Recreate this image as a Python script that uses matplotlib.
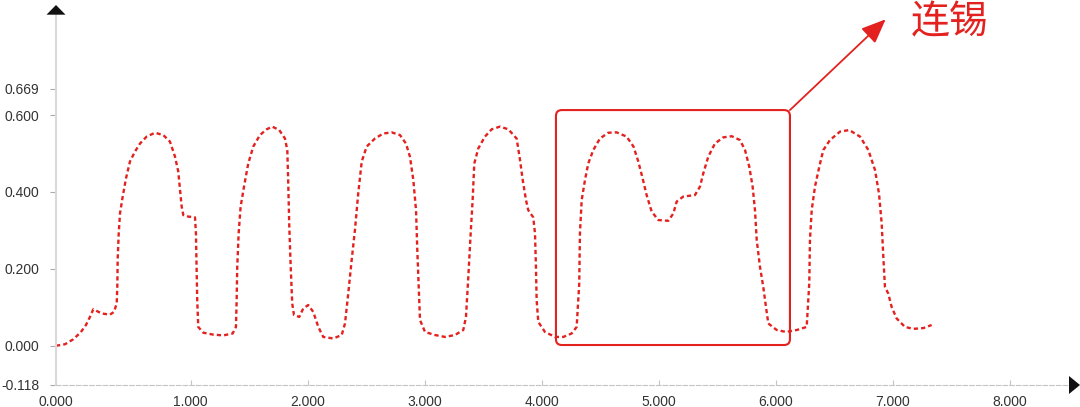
import numpy as np
import matplotlib
matplotlib.use('Agg')
import matplotlib.pyplot as plt
from matplotlib.patches import FancyBboxPatch, Polygon

# data
xVals=[-0.151,-0.074,-0.003,0.060,0.105,0.139,0.168,0.239,0.310,0.344,0.368,0.373,0.376,0.385,0.396,0.419,0.447,0.481,0.524,0.567,
       0.624,0.695,0.766,0.823,0.866,0.894,0.909,0.923,0.937,0.979,1.037,1.045,1.051,1.056,1.065,1.108,1.193,1.279,1.359,1.387,
       1.393,1.398,1.410,1.427,1.456,1.492,1.535,1.592,1.650,1.697,1.757,1.806,1.826,1.834,1.843,1.855,1.868,1.883,1.928,1.962,
       2.005,2.048,2.091,2.133,2.219,2.291,2.319,2.347,2.376,2.404,2.432,2.462,2.504,2.575,2.646,2.718,2.789,2.840,2.874,2.903,
       2.926,2.937,2.949,2.960,3.003,3.088,3.174,3.259,3.330,3.353,3.373,3.393,3.410,3.424,3.458,3.515,3.573,3.644,3.715,3.786,
       3.815,3.838,3.866,3.885,3.928,3.943,3.951,3.957,3.971,4.028,4.114,4.185,4.256,4.299,4.321,4.327,4.342,4.370,4.398,4.441,
       4.498,4.569,4.641,4.726,4.785,4.826,4.863,4.897,4.940,4.997,5.082,5.125,5.154,5.210,5.310,5.353,5.381,5.424,5.481,5.552,
       5.624,5.695,5.738,5.774,5.803,5.823,5.838,5.866,5.894,5.917,5.937,6.009,6.088,6.180,6.265,6.279,6.287,6.293,6.308,6.336,
       6.373,6.407,6.464,6.550,6.629,6.721,6.792,6.849,6.883,6.906,6.920,6.934,6.962,6.991,7.034,7.105,7.176,7.262,7.333]
yVals=[0.000,0.004,0.017,0.035,0.054,0.075,0.095,0.084,0.081,0.088,0.110,0.153,0.223,0.292,0.344,0.388,0.435,0.479,0.505,0.526,
       0.544,0.554,0.548,0.531,0.492,0.453,0.405,0.362,0.340,0.336,0.334,0.292,0.205,0.119,0.049,0.034,0.029,0.027,0.032,0.049,
       0.119,0.205,0.292,0.362,0.414,0.474,0.518,0.548,0.563,0.570,0.561,0.539,0.509,0.422,0.309,0.205,0.110,0.080,0.075,0.097,
       0.106,0.088,0.049,0.023,0.019,0.028,0.058,0.136,0.223,0.301,0.396,0.479,0.518,0.539,0.552,0.555,0.548,0.526,0.492,0.431,
       0.353,0.249,0.153,0.067,0.036,0.028,0.023,0.028,0.041,0.075,0.179,0.292,0.379,0.474,0.513,0.544,0.563,0.570,0.563,0.539,
       0.483,0.431,0.379,0.353,0.334,0.292,0.205,0.119,0.062,0.036,0.023,0.023,0.032,0.049,0.162,0.292,0.379,0.431,0.474,0.509,
       0.539,0.554,0.555,0.544,0.518,0.479,0.435,0.392,0.349,0.327,0.325,0.344,0.375,0.388,0.392,0.414,0.448,0.492,0.526,0.542,
       0.545,0.535,0.509,0.466,0.414,0.353,0.275,0.205,0.153,0.101,0.058,0.041,0.036,0.041,0.049,0.119,0.162,0.275,0.353,0.414,
       0.466,0.509,0.535,0.557,0.561,0.544,0.509,0.457,0.396,0.318,0.231,0.153,0.136,0.101,0.071,0.049,0.044,0.046,0.054]

xOrigin=-0.151
xMax=8.507
yOrigin=-0.102
yMax=0.861
xTicks=[xOrigin,1,2,3,4,5,6,7,8]
xTickLabels=['0.000','1.000','2.000','3.000','4.000','5.000','6.000','7.000','8.000']
yTicks=[yOrigin,0,0.2,0.4,0.6,0.669]
yTickLabels=['-0.118','0.000','0.200','0.400','0.600','0.669']

# highlighted region and label
boxX=[4.122,6.122]
boxY=[0.002,0.613]
arrowTip=(6.940,0.849)
labelPos=(7.155,0.840)
labelText='连锡'

red='#e3211f'
W,H=1080,407

fig=plt.figure(figsize=(W/100,H/100), dpi=100)
ax=fig.add_axes([56/W, 1-385/H, (1069-56)/W, (385-14.7)/H])
ax.set_xlim(xOrigin, xMax)
ax.set_ylim(yOrigin, yMax)

ax.plot(xVals, yVals, color=red, linewidth=1.7, linestyle=(0,(1.8,1.3)), solid_capstyle='butt')

# axes styling
for s in ['top','right']:
	ax.spines[s].set_visible(False)
ax.spines['left'].set_color('#d9d9d9')
ax.spines['left'].set_linewidth(1.5)
ax.spines['bottom'].set_color('#c4c4c4')
ax.spines['bottom'].set_linewidth(0.8)
ax.spines['bottom'].set_linestyle((0,(4,2)))

ax.set_xticks(xTicks)
ax.set_xticklabels(xTickLabels)
ax.set_yticks(yTicks)
ax.set_yticklabels(yTickLabels)
ax.tick_params(axis='x', direction='in', length=3.5, width=0.8, color='#c4c4c4', pad=7,
			   labelsize=10, labelcolor='#333333')
ax.tick_params(axis='y', direction='out', length=4, width=0.8, color='#aaaaaa', pad=8,
			   labelsize=10, labelcolor='#333333')
for lab in ax.get_xticklabels()+ax.get_yticklabels():
	lab.set_fontfamily('Liberation Sans')

# rounded box around the bridged joint
aspect=(1/384.5)/(1/117.0)
box=FancyBboxPatch((boxX[0],boxY[0]), boxX[1]-boxX[0], boxY[1]-boxY[0],
				   boxstyle='round,pad=0,rounding_size=0.05', mutation_aspect=aspect,
				   facecolor='none', edgecolor=red, linewidth=1.5, clip_on=False)
ax.add_patch(box)

ax.annotate('', xy=arrowTip, xytext=(boxX[1],boxY[1]),
			arrowprops=dict(arrowstyle='-|>,head_length=0.6,head_width=0.25', mutation_scale=25,
							color=red, lw=1.3, shrinkA=0, shrinkB=0), annotation_clip=False)
ax.text(labelPos[0], labelPos[1], labelText, color=red, fontsize=28, va='center', ha='left',
		family=['Noto Sans CJK SC','DejaVu Sans'], clip_on=False)

# arrow heads on the axes
def px(x, y):
	return (x/W, 1-y/H)
fig.add_artist(Polygon([px(46.5,14.7), px(65.5,14.7), px(56,5)], closed=True,
					   facecolor='#111111', edgecolor='none', transform=fig.transFigure))
fig.add_artist(Polygon([px(1069,376), px(1069,394), px(1080,385)], closed=True,
					   facecolor='#111111', edgecolor='none', transform=fig.transFigure))

fig.savefig('out.png', dpi=100, facecolor='white')
